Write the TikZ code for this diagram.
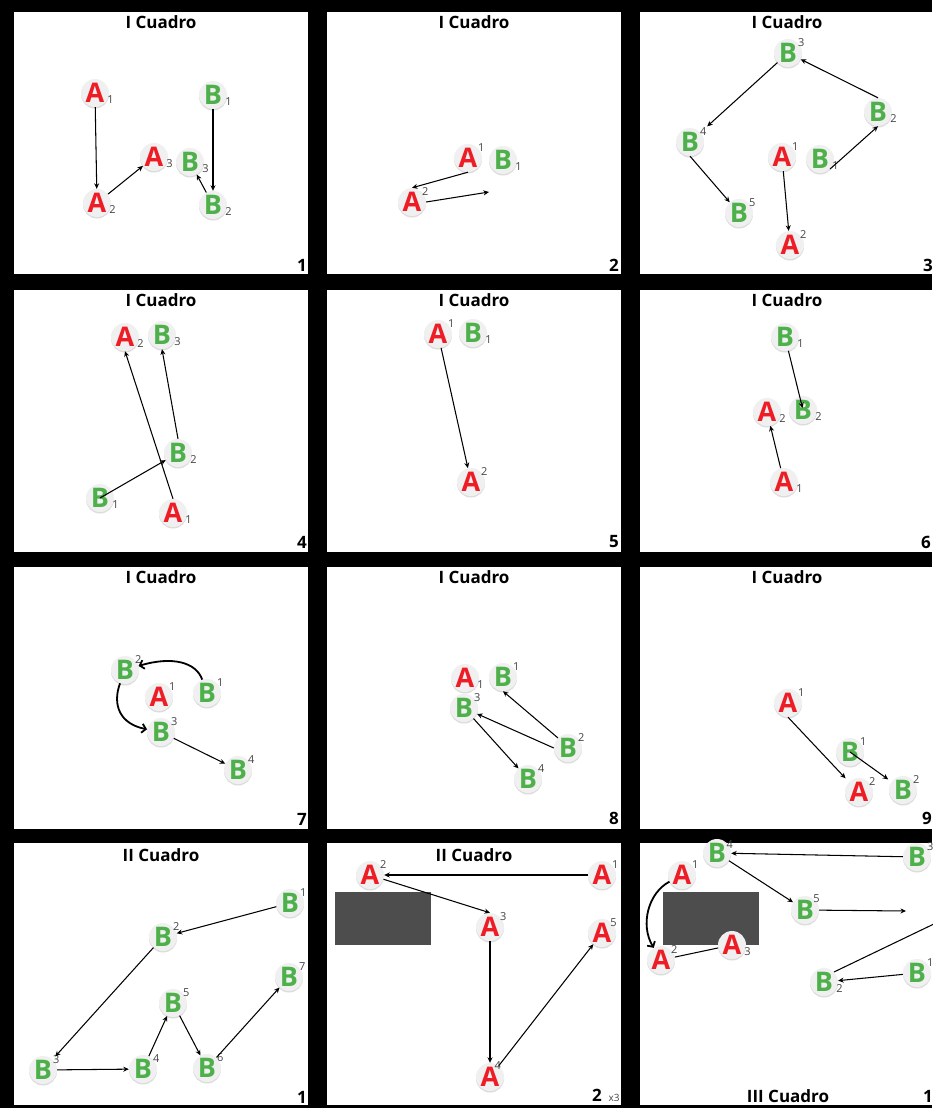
\documentclass[tikz,border=0pt]{standalone}
\usepackage{fontspec}
\setmainfont{Open Sans}
\usetikzlibrary{arrows.meta,shadows}
\definecolor{rojo}{HTML}{EE1C25}
\definecolor{verde}{HTML}{4DB04A}
\definecolor{gris}{HTML}{4D4D4D}
\definecolor{indice}{HTML}{444444}

\begin{document}
\begin{tikzpicture}[x=1pt,y=-1pt,
  ficha/.style={circle,fill=gray!12,minimum size=28pt,inner sep=0pt,
    font=\bfseries\fontsize{27}{27}\selectfont,
    drop shadow={shadow xshift=0pt,shadow yshift=-1.5pt,opacity=0.45,fill=gray!60}},
  fa/.style={ficha,text=rojo},
  fb/.style={ficha,text=verde},
  idx/.style={font=\fontsize{11}{11}\selectfont,text=indice,inner sep=1pt},
  bajo/.style={label={[idx,label distance=-3pt]-5:#1}},
  alto/.style={label={[idx,label distance=-4pt]30:#1}},
  flecha/.style={-{Stealth[length=5.5pt,width=5pt]},line width=1.05pt},
  curva/.style={-{Straight Barb[length=4pt,width=9pt]},line width=1.8pt},
  linea/.style={line width=1.05pt},
  titulo/.style={font=\bfseries\fontsize{17}{17}\selectfont},
  numero/.style={font=\bfseries\fontsize{17}{17}\selectfont},
  bloque/.style={fill=gris}]
  \useasboundingbox (0,0) rectangle (932,1108);
  \fill[black] (0,0) rectangle (932,1108);
  \foreach \px in {14,327,640}
    \foreach \py in {12,290,567,843}
      \fill[white] (\px,\py) rectangle ++(294,262);

  \foreach \cx in {161,474,787}
    \foreach \ty in {22,300,577}
      \node[titulo] (tit-\cx-\ty) at (\cx,\ty) {I Cuadro};
  \node[titulo] (tit10) at (161,855) {II Cuadro};
  \node[titulo] (tit11) at (474,855) {II Cuadro};
  \node[titulo] (tit12) at (788,1096) {III Cuadro};

  \node[numero] (n1) at (302,265) {1};
  \node[numero] (n2) at (614,265) {2};
  \node[numero] (n3) at (928,265) {3};
  \node[numero] (n4) at (302,542) {4};
  \node[numero] (n5) at (614,542) {5};
  \node[numero] (n6) at (926,542) {6};
  \node[numero] (n7) at (302,819) {7};
  \node[numero] (n8) at (614,818) {8};
  \node[numero] (n9) at (927,818) {9};
  \node[numero] (n10) at (302,1097) {1};
  \node[numero] (n11) at (597,1095) {2};
  \node[idx,anchor=base west,font=\fontsize{10}{10}\selectfont] (n11x)
    at ([xshift=2pt]n11.base east) {x3};
  \node[numero] (n12) at (928,1096) {1};

  \node[fa,bajo=1] (p1a1) at (95,93) {A};
  \node[fb,bajo=1] (p1b1) at (213,95) {B};
  \node[fa,bajo=3] (p1a3) at (154,157) {A};
  \node[fb,bajo=3] (p1b3) at (190,162) {B};
  \node[fa,bajo=2] (p1a2) at (97,203) {A};
  \node[fb,bajo=2] (p1b2) at (213,205) {B};
  \draw[flecha] (p1a1) -- (p1a2);
  \draw[flecha] (p1a2) -- (p1a3);
  \draw[flecha] (p1b1) -- (p1b2);
  \draw[flecha] (p1b2) -- (p1b3);

  \node[fa,alto=1] (p2a1) at (468,158) {A};
  \node[fb,bajo=1] (p2b1) at (503,160) {B};
  \node[fa,alto=2] (p2a2) at (412,202) {A};
  \coordinate (p2x) at (489,192);
  \draw[flecha] (p2a1.south) -- (p2a2.north);
  \draw[flecha] (p2a2.east) -- (p2x);

  \node[fb,alto=3] (p3b3) at (788,53) {B};
  \node[fb,bajo=2] (p3b2) at (878,112) {B};
  \node[fb,alto=4] (p3b4) at (690,142) {B};
  \node[fa,alto=1] (p3a1) at (782,157) {A};
  \node[fb,bajo=1] (p3b1) at (820,159) {B};
  \node[fb,alto=5] (p3b5) at (739,213) {B};
  \node[fa,alto=2] (p3a2) at (790,245) {A};
  \draw[flecha] (p3b2.north) -- (p3b3);
  \draw[flecha,shorten >=9pt] (p3b3) -- (p3b4);
  \draw[flecha] (p3b4.south) -- (p3b5);
  \draw[flecha] (p3a1) -- (p3a2);
  \draw[flecha] (p3b1.south east) -- (p3b2.south);

  \node[fa,bajo=2] (p4a2) at (125,337) {A};
  \node[fb,bajo=3] (p4b3) at (162,335) {B};
  \node[fb,bajo=2] (p4b2) at (178,453) {B};
  \node[fb,bajo=1] (p4b1) at (100,498) {B};
  \node[fa,bajo=1] (p4a1) at (173,513) {A};
  \draw[flecha] (p4a1.north) -- (p4a2.south);
  \draw[flecha] (p4b2.north) -- (p4b3.south);
  \draw[flecha] (p4b1.center) -- (p4b2);

  \node[fa,alto=1] (p5a1) at (438,334) {A};
  \node[fb,bajo=1] (p5b1) at (473,333) {B};
  \node[fa,alto=2] (p5a2) at (471,482) {A};
  \draw[flecha] (p5a1) -- (p5a2);

  \node[fb,bajo=1] (p6b1) at (785,337) {B};
  \node[fa,bajo=2] (p6a2) at (767,412) {A};
  \node[fb,bajo=2] (p6b2) at (803,410) {B};
  \node[fa,bajo=1] (p6a1) at (784,482) {A};
  \draw[flecha,shorten >=2pt] (p6b1) -- (p6b2.center);
  \draw[flecha] (p6a1) -- (p6a2);

  \node[fb,alto=2] (p7b2) at (125,670) {B};
  \node[fb,alto=1] (p7b1) at (207,693) {B};
  \node[fa,alto=1] (p7a1) at (159,697) {A};
  \node[fb,alto=3] (p7b3) at (161,732) {B};
  \node[fb,alto=4] (p7b4) at (238,770) {B};
  \draw[curva] (p7b1) .. controls (196,662) and (172,656) .. (p7b2);
  \draw[curva] (p7b2) .. controls (112,705) and (120,724) .. (p7b3);
  \draw[flecha] (p7b3) -- (p7b4);

  \node[fa,bajo=1] (p8a1) at (465,678) {A};
  \node[fb,alto=1] (p8b1) at (503,677) {B};
  \node[fb,alto=3] (p8b3) at (464,708) {B};
  \node[fb,alto=2] (p8b2) at (568,748) {B};
  \node[fb,alto=4] (p8b4) at (528,779) {B};
  \draw[flecha] (p8b2.north west) -- (p8b1.south);
  \draw[flecha] (p8b2.west) -- (p8b3);
  \draw[flecha] (p8b3) -- (p8b4);

  \node[fa,alto=1] (p9a1) at (788,703) {A};
  \node[fb,alto=1] (p9b1) at (850,752) {B};
  \node[fa,alto=2] (p9a2) at (859,792) {A};
  \node[fb,alto=2] (p9b2) at (903,790) {B};
  \draw[flecha,shorten >=5pt] (p9a1.south) -- (p9a2.north west);
  \draw[flecha,shorten >=4pt] (p9b1.center) -- (p9b2);

  \node[fb,alto=1] (p10b1) at (290,903) {B};
  \node[fb,alto=2] (p10b2) at (163,937) {B};
  \node[fb,alto=7] (p10b7) at (289,977) {B};
  \node[fb,alto=5] (p10b5) at (173,1003) {B};
  \node[fb,alto=3] (p10b3) at (43,1070) {B};
  \node[fb,alto=4] (p10b4) at (143,1069) {B};
  \node[fb,alto=6] (p10b6) at (207,1068) {B};
  \draw[flecha] (p10b1) -- (p10b2);
  \draw[flecha,shorten >=4pt] (p10b2) -- (p10b3);
  \draw[flecha] (p10b3) -- (p10b4);
  \draw[flecha] (p10b4) -- (p10b5);
  \draw[flecha] (p10b5) -- (p10b6);
  \draw[flecha] (p10b6) -- (p10b7);

  \fill[bloque] (335,892) rectangle (431,945);
  \node[fa,alto=2] (p11a2) at (370,875) {A};
  \node[fa,alto=1] (p11a1) at (602,875) {A};
  \node[fa,alto=3] (p11a3) at (490,927) {A};
  \node[fa,label={[idx,label distance=-5pt]38:5}] (p11a5) at (602,933) {A};
  \node[fa,label={[idx,label distance=-7pt]62:4}] (p11a4) at (490,1077) {A};
  \draw[flecha] (p11a1) -- (p11a2);
  \draw[flecha] (p11a2) -- (p11a3.north);
  \draw[flecha] (p11a3.south) -- (p11a4.north);
  \draw[flecha] (p11a4) -- (p11a5);

  \fill[bloque] (663,892) rectangle (759,945);
  \node[fb,label={[idx,label distance=-5pt]22:4}] (p12b4) at (717,853) {B};
  \node[fb,alto=3] (p12b3) at (917,857) {B};
  \node[fa,alto=1] (p12a1) at (682,875) {A};
  \node[fb,label={[idx,label distance=-5pt]40:5}] (p12b5) at (805,910) {B};
  \node[fa,bajo=3] (p12a3) at (732,945) {A};
  \node[fa,alto=2] (p12a2) at (661,960) {A};
  \node[fb,bajo=2] (p12b2) at (824,982) {B};
  \node[fb,alto=1] (p12b1) at (917,973) {B};
  \coordinate (p12x1) at (906,911);
  \coordinate (p12x2) at (938,922);
  \draw[flecha] (p12b3) -- (p12b4);
  \draw[flecha] (p12b4) -- (p12b5);
  \draw[flecha] (p12b5) -- (p12x1);
  \draw[curva] (p12a1) .. controls (648,893) and (640,925) .. (p12a2);
  \draw[linea] (p12a2) -- (p12a3);
  \draw[flecha] (p12b1) -- (p12b2);
  \draw[linea] (p12x2) -- (p12b2.north east);
\end{tikzpicture}
\end{document}
